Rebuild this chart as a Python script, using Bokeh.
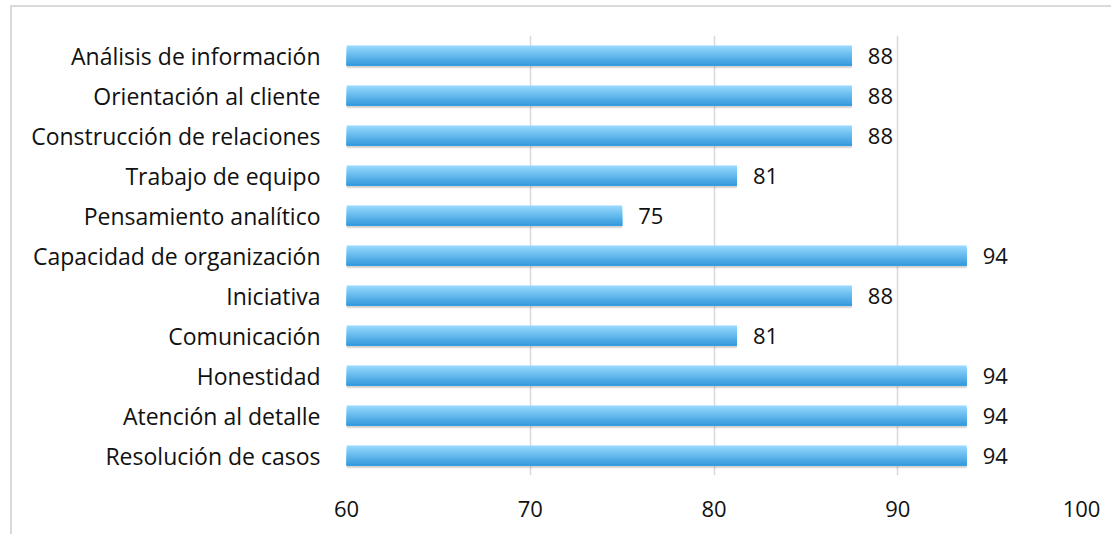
from bokeh.plotting import figure
from bokeh.models import ColumnDataSource, FactorRange, Range1d, FixedTicker
from bokeh.transform import dodge
from bokeh.core.properties import value
from bokeh.embed import file_html
from bokeh.resources import INLINE

categories = ["Análisis de información", "Orientación al cliente", "Construcción de relaciones",
              "Trabajo de equipo", "Pensamiento analítico", "Capacidad de organización",
              "Iniciativa", "Comunicación", "Honestidad", "Atención al detalle", "Resolución de casos"]
values = [87.5, 87.5, 87.5, 81.25, 75.0, 93.75, 87.5, 81.25, 93.75, 93.75, 93.75]
labels = ["88", "88", "88", "81", "75", "94", "88", "81", "94", "94", "94"]
x_ticks = [60, 70, 80, 90, 100]

FONT = "Open Sans"
FSIZE = "23px"
NSIZE = "22px"
TXT = "#111111"
factors = list(reversed(categories))
src = ColumnDataSource(dict(cat=categories, val=values, lab=labels, base=[x_ticks[0]] * len(values)))

p = figure(width=1101, height=529, y_range=FactorRange(factors=factors, range_padding=0),
           x_range=Range1d(60, 100), output_backend="svg", toolbar_location=None,
           min_border_left=334, min_border_right=32, min_border_top=28, min_border_bottom=61,
           styles={"margin-left": "10px", "margin-top": "5px",
                   "border-left": "2px solid #d9d9d9", "border-top": "2px solid #d9d9d9"})
p.outline_line_color = None
p.background_fill_color = "white"
p.border_fill_color = "white"

p.xgrid.ticker = FixedTicker(ticks=x_ticks)
p.xgrid.grid_line_color = "#d9d9d9"
p.xgrid.grid_line_width = 1.5
p.ygrid.grid_line_color = None

# soft shadow under bars
for off, a in [(-0.262, 0.38), (-0.29, 0.20), (-0.318, 0.08)]:
    p.hbar(y=dodge("cat", off, range=p.y_range), left="base", right="val", height=0.03,
           source=src, fill_color="#555555", fill_alpha=a, line_color=None)

# gradient bars: layered strips, each reaching down to the bar bottom
n = 14
top = (0x95, 0xd8, 0xfd)
bot = (0x36, 0x9b, 0xdd)
hs = 0.5 / n
for i in range(n):
    t = i / (n - 1)
    c = tuple(int(round(top[k] + (bot[k] - top[k]) * t)) for k in range(3))
    col = "#%02x%02x%02x" % c
    hh = 0.5 - i * hs
    off = -i * hs / 2
    p.hbar(y=dodge("cat", off, range=p.y_range), left="base", right="val", height=hh,
           source=src, fill_color=col, line_color=None)

p.text(x="val", y="cat", text="lab", source=src, x_offset=16, text_baseline="middle",
       text_align="left", text_font=value(FONT), text_font_size=NSIZE, text_color=TXT)

p.xaxis.ticker = FixedTicker(ticks=x_ticks)
p.xaxis.axis_line_color = None
p.xaxis.major_tick_line_color = None
p.xaxis.minor_tick_line_color = None
p.xaxis.major_label_text_font = FONT
p.xaxis.major_label_text_font_size = NSIZE
p.xaxis.major_label_text_color = TXT
p.xaxis.major_label_standoff = 19

p.yaxis.axis_line_color = None
p.yaxis.major_tick_line_color = None
p.yaxis.major_label_text_font = FONT
p.yaxis.major_label_text_font_size = FSIZE
p.yaxis.major_label_text_color = TXT
p.yaxis.major_label_standoff = 20

open("out.html", "w").write(file_html(p, INLINE))
